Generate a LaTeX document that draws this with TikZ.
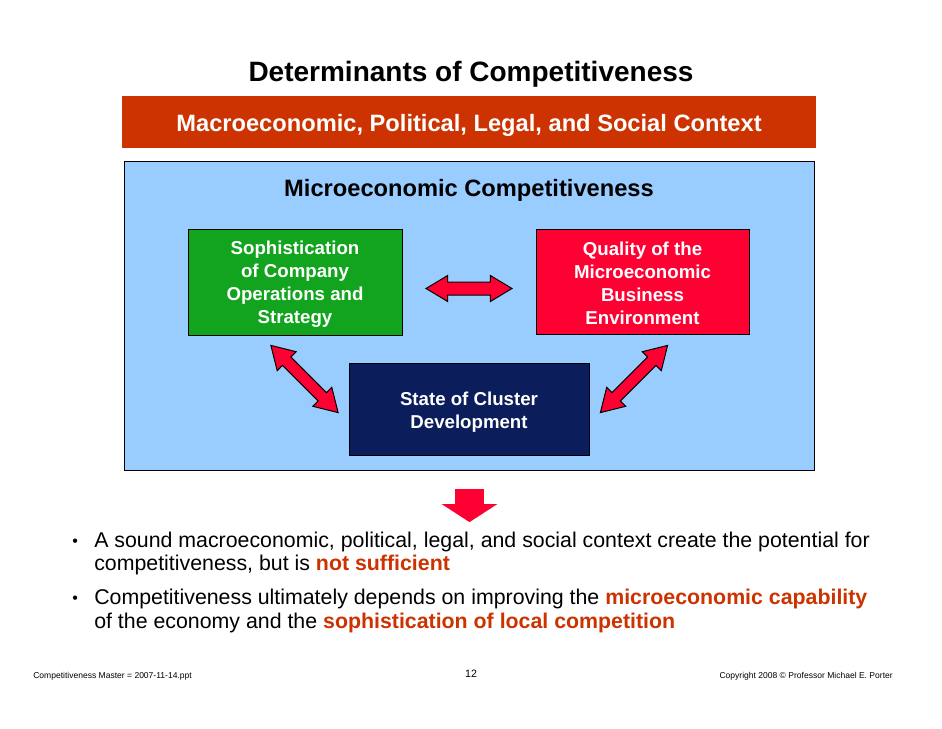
\documentclass[tikz,border=0pt]{standalone}
\usepackage{fontspec}
\setmainfont{Liberation Sans}
\usetikzlibrary{shapes.arrows,calc}
\definecolor{barred}{HTML}{CC3300}
\definecolor{skyblue}{HTML}{99CCFF}
\definecolor{boxgreen}{HTML}{12A41E}
\definecolor{boxred}{HTML}{FF0033}
\definecolor{boxnavy}{HTML}{0B1E5B}
\definecolor{arrowred}{HTML}{FF0033}
\definecolor{hl}{HTML}{CC3300}
\tikzset{
  boxnode/.style={rectangle, draw=black, line width=0.75pt, inner sep=0pt},
  boxtext/.style={inner sep=0pt, text=white,
    font=\fontsize{14}{17.25}\selectfont\bfseries, align=center},
  dblarrow/.style={double arrow, draw=black, line width=0.75pt, fill=arrowred, inner xsep=0pt,
    double arrow tip angle=62},
  bullettext/.style={anchor=base west, inner sep=0pt, font=\fontsize{16}{17.25}\selectfont},
  footer/.style={inner sep=0pt, font=\fontsize{6.4}{8}\selectfont}
}
\begin{document}
\begin{tikzpicture}[x=0.75pt,y=-0.75pt]
\useasboundingbox (0,0) rectangle (942,728);
\fill[white] (0,0) rectangle (942,728);

% title
\node[anchor=base, inner sep=0pt, font=\fontsize{21}{25}\selectfont\bfseries] (title) at (471,81) {Determinants of Competitiveness};

% macro bar
\node[rectangle, fill=barred, inner sep=0pt, minimum width=520.5pt, minimum height=39pt] (bar) at (469,122) {};
\node[anchor=base, inner sep=0pt, text=white, font=\fontsize{17.75}{20}\selectfont\bfseries] (bartext) at (469,131) {Macroeconomic, Political, Legal, and Social Context};

% micro box
\node[rectangle, draw=black, line width=0.75pt, fill=skyblue, inner sep=0pt, minimum width=517.5pt, minimum height=231.75pt] (micro) at (469,315.5) {};
\node[anchor=base, inner sep=0pt, font=\fontsize{17.75}{20}\selectfont\bfseries] (microtitle) at (469,196) {Microeconomic Competitiveness};

% boxes
\node[boxnode, fill=boxgreen, minimum width=160.5pt, minimum height=79.5pt] (green) at (295,282) {};
\node[boxtext] (greentext) at (295,284.5) {Sophistication\\of Company\\Operations and\\Strategy};
\node[boxnode, fill=boxred, minimum width=159.75pt, minimum height=78.75pt] (redbox) at (642.5,281.5) {};
\node[boxtext] (redtext) at (642.5,283.5) {Quality of the\\Microeconomic\\Business\\Environment};
\node[boxnode, fill=boxnavy, minimum width=180pt, minimum height=69pt] (navy) at (469,409) {};
\node[boxtext] (navytext) at (469,412) {State of Cluster\\Development};

% arrows
\node[dblarrow, inner ysep=4.5pt, minimum height=64.5pt, minimum width=18.75pt, double arrow head extend=4.9pt] (harrow) at (469,288.5) {};
\node[dblarrow, inner ysep=4.1pt, rotate=-45, minimum height=71.25pt, minimum width=19.5pt, double arrow head extend=5.6pt] (larrow) at (304.5,379) {};
\node[dblarrow, inner ysep=4.1pt, rotate=45, minimum height=71.25pt, minimum width=19.5pt, double arrow head extend=5.6pt] (rarrow) at (634,379) {};

\node[single arrow, fill=arrowred, draw=none, inner xsep=0pt, inner ysep=10.5pt, rotate=-90, minimum height=24.75pt, minimum width=41.25pt, single arrow head extend=10.1pt, single arrow tip angle=114] (down) at (469.5,501) {};

% bullets
\node[bullettext, font=\fontsize{12}{14}\selectfont] (d1) at (72,546) {•};
\node[bullettext] (b1a) at (94,547) {A sound macroeconomic, political, legal, and social context create the potential for};
\node[bullettext] (b1b) at (94,570) {competitiveness, but is \textcolor{hl}{\bfseries not sufficient}};
\node[bullettext, font=\fontsize{12}{14}\selectfont] (d2) at (72,603) {•};
\node[bullettext] (b2a) at (94,604) {Competitiveness ultimately depends on improving the \textcolor{hl}{\bfseries microeconomic capability}};
\node[bullettext] (b2b) at (94,628) {of the economy and the \textcolor{hl}{\bfseries sophistication of local competition}};

% footer
\node[footer, anchor=base west] (fl) at (33,678) {Competitiveness Master = 2007-11-14.ppt};
\node[footer, anchor=base, font=\fontsize{8}{10}\selectfont] (fc) at (471,677) {12};
\node[footer, anchor=base east] (fr) at (893,678) {Copyright 2008 © Professor Michael E. Porter};
\end{tikzpicture}
\end{document}
